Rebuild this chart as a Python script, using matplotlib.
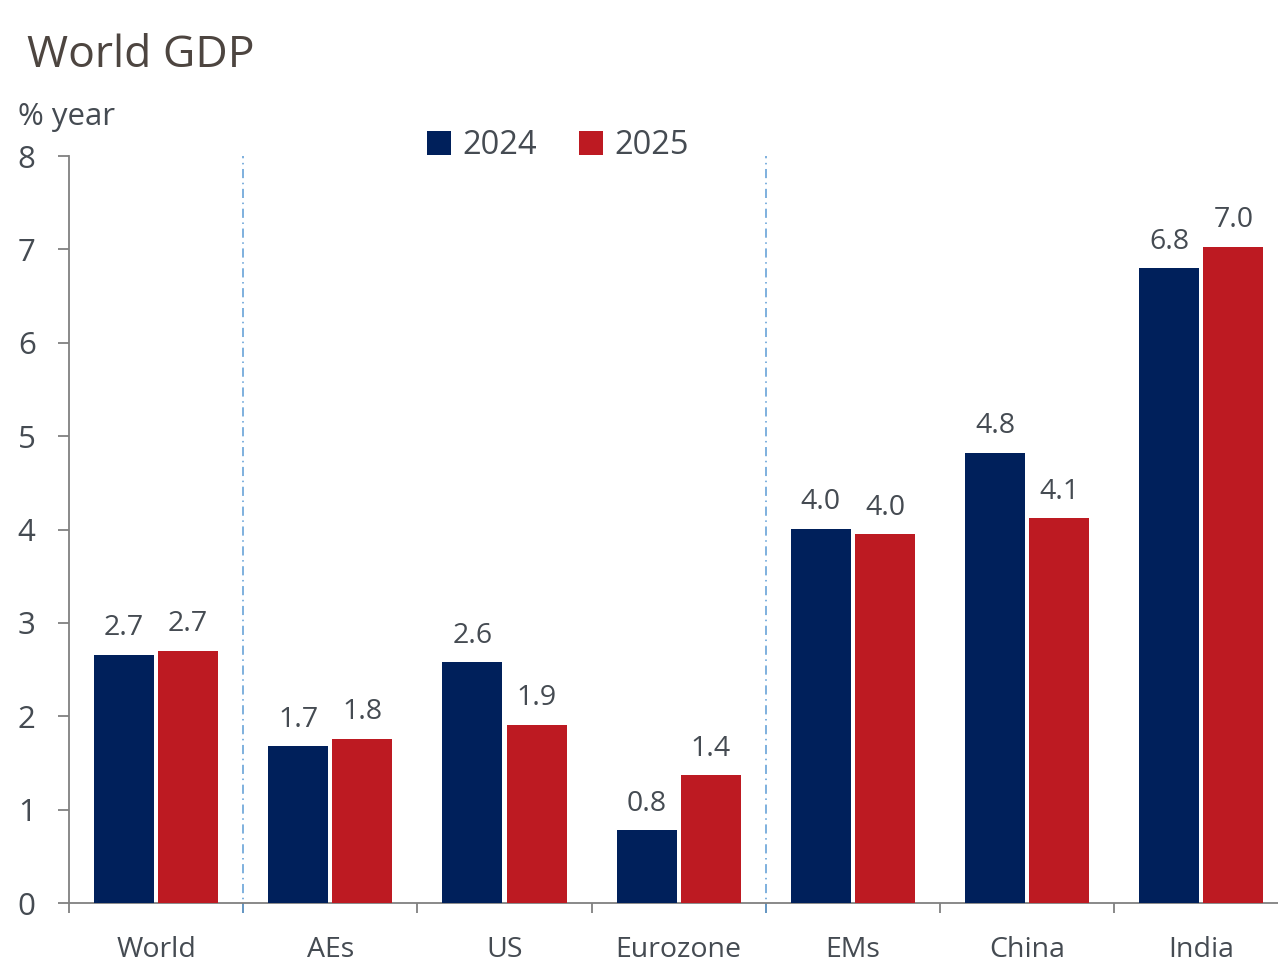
import matplotlib
matplotlib.use("Agg")
import matplotlib.pyplot as plt
import numpy as np

plt.rcParams['font.family'] = ['Open Sans', 'DejaVu Sans']

categories = ["World", "AEs", "US", "Eurozone", "EMs", "China", "India"]
gdp_2024 = [2.66, 1.68, 2.58, 0.78, 4.01, 4.82, 6.80]
gdp_2025 = [2.70, 1.76, 1.91, 1.37, 3.95, 4.12, 7.03]
series_labels = ["2024", "2025"]
group_breaks = [0.5, 3.5]

navy = "#00205b"
red = "#bd1a22"
text_col = "#454b52"
axis_col = "#808080"

fig = plt.figure(figsize=(12.78, 9.63), dpi=100)
ax = fig.add_axes([69 / 1278, 60 / 963, 7 * 174.2 / 1278, 747 / 963])

x = np.arange(len(categories))
w = 0.345
off = 0.184
b1 = ax.bar(x - off, gdp_2024, width=w, color=navy, label=series_labels[0], zorder=3)
b2 = ax.bar(x + off, gdp_2025, width=w, color=red, label=series_labels[1], zorder=3)

for bars in (b1, b2):
    for rect in bars:
        v = rect.get_height()
        ax.annotate(f"{v:.1f}", (rect.get_x() + rect.get_width() / 2, v),
                    xytext=(0, 9), textcoords="offset points",
                    ha="center", va="bottom", fontsize=20.5, color=text_col)

ax.set_xlim(-0.5, len(categories) - 0.5)
ax.set_ylim(0, 8)
ax.set_yticks(range(0, 9))

ax.set_xticks(np.arange(-0.5, len(categories) + 0.5, 1.0))
ax.set_xticklabels([])
ax.set_xticks(x, minor=True)
ax.set_xticklabels(categories, minor=True)
ax.tick_params(axis="x", which="major", direction="out", length=7.5, width=1.3,
               color=axis_col)
ax.tick_params(axis="x", which="minor", length=0, pad=24, labelsize=20.5,
               labelcolor=text_col)
ax.tick_params(axis="y", direction="out", length=8, width=1.3, color=axis_col,
               pad=16, labelsize=22.5, labelcolor=text_col)

for s in ("top", "right"):
    ax.spines[s].set_visible(False)
for s in ("left", "bottom"):
    ax.spines[s].set_color(axis_col)
    ax.spines[s].set_linewidth(1.3)

for xb in group_breaks:
    ax.axvline(xb, ymin=-10 / 747, ymax=1.0, color="#5b9bd5", lw=1.1,
               ls=(0, (6, 3, 1, 3)), clip_on=False, zorder=2)

leg = ax.legend(loc="upper center", bbox_to_anchor=(0.401, 1.075), ncol=2,
                frameon=False, fontsize=23.5, handlelength=0.72, handleheight=0.72,
                handletextpad=0.35, columnspacing=1.3, labelcolor=text_col)

fig.text(27 / 1278, 1 - 56 / 963, "World GDP", fontsize=32, color="#4d4540",
         va="center", ha="left")
fig.text(18 / 1278, 1 - 117 / 963, "% year", fontsize=22.5, color=text_col,
         va="center", ha="left")

fig.savefig("out.png", dpi=100)
